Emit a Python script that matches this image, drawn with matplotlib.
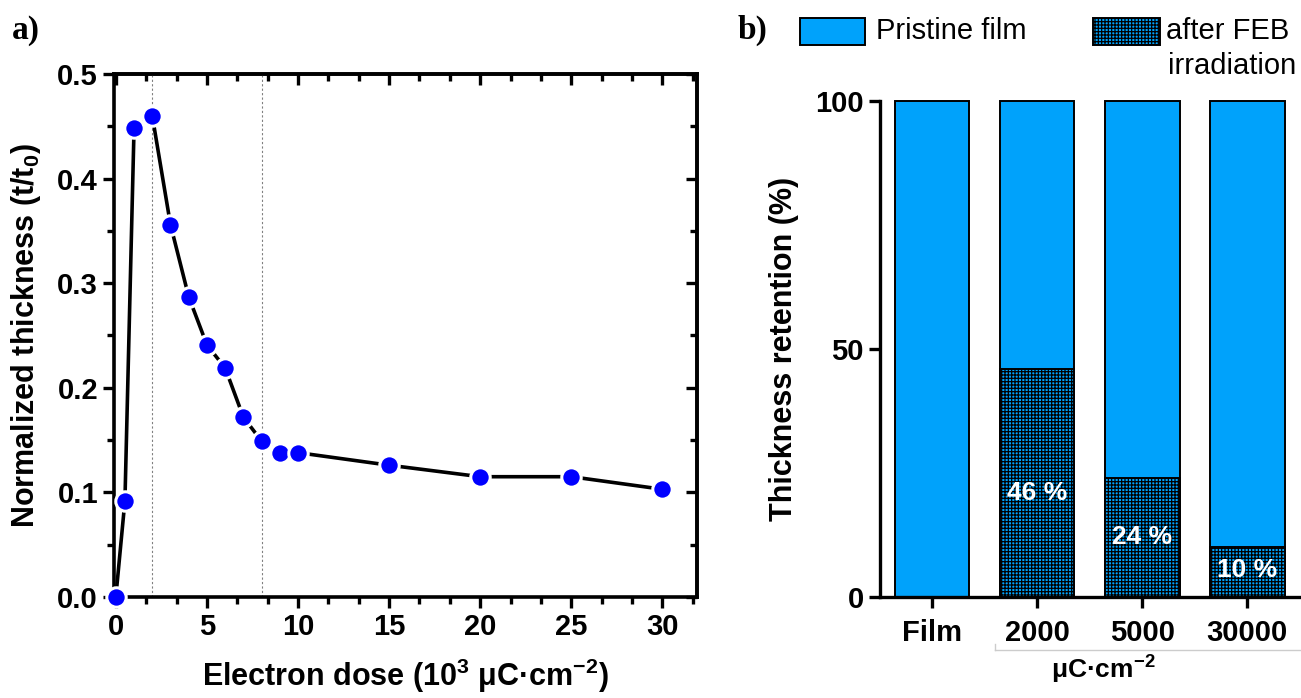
import matplotlib
matplotlib.use('Agg')
import matplotlib.pyplot as plt
from matplotlib.lines import Line2D
import numpy as np

plt.rcParams['font.family'] = ['Liberation Sans', 'DejaVu Sans']
plt.rcParams['mathtext.fontset'] = 'custom'
plt.rcParams['mathtext.rm'] = 'Liberation Sans'
plt.rcParams['mathtext.bf'] = 'Liberation Sans:bold'
plt.rcParams['mathtext.it'] = 'Liberation Sans:italic'
plt.rcParams['hatch.color'] = 'black'
plt.rcParams['hatch.linewidth'] = 0.9

# panel a data
dose = [0, 0.5, 1, 2, 3, 4, 5, 6, 7, 8, 9, 10, 15, 20, 25, 30]
thickness = [0.0, 0.092, 0.448, 0.460, 0.356, 0.287, 0.241, 0.219, 0.172,
             0.149, 0.138, 0.138, 0.126, 0.115, 0.115, 0.103]
guide_doses = [2, 8]

# panel b data
bar_labels = ['Film', '2000', '5000', '30000']
pristine = [100, 100, 100, 100]
retention = [None, 46, 24, 10]

blue = '#00a2fb'
W, H = 1301, 698
fig = plt.figure(figsize=(W / 100, H / 100), dpi=100)

def box(l, t, r, b):
    return [l / W, 1 - b / H, (r - l) / W, (b - t) / H]

FS = 21

# ---------- panel a ----------
ax = fig.add_axes(box(114, 74, 697, 597))
ax.plot(dose, thickness, color='black', lw=2.6, marker='o', ms=14,
        mfc='#0000ff', mec='white', mew=2.2, zorder=3, clip_on=False)
for g in guide_doses:
    ax.axvline(g, color='grey', lw=0.8, ls=(0, (2, 2)), zorder=1)
ax.set_xlim(-0.1, 31.9)
ax.set_ylim(0, 0.5)
xmaj = [0, 5, 10, 15, 20, 25, 30]
xmin = np.arange(0, 32, 5 / 3)
ymaj = [0.0, 0.1, 0.2, 0.3, 0.4, 0.5]
ymin = np.arange(0.05, 0.5, 0.1)
ax.set_xticks(xmaj)
ax.set_xticks(xmin, minor=True)
ax.set_yticks(ymaj)
ax.set_yticks(ymin, minor=True)
ax.set_yticklabels(['0.0', '0.1', '0.2', '0.3', '0.4', '0.5'])
for s in ax.spines.values():
    s.set_linewidth(2.6)
ax.tick_params(which='both', direction='out', width=2.4, labelsize=FS)
ax.tick_params(which='major', length=8)
ax.tick_params(which='minor', length=5)
for t in ax.get_xticklabels() + ax.get_yticklabels():
    t.set_fontweight('bold')

# mirror ticks on top and right, pointing inward
top = ax.secondary_xaxis('top')
top.set_xticks(xmaj)
top.set_xticks(xmin, minor=True)
top.tick_params(which='both', direction='in', width=2.4, labeltop=False)
top.tick_params(which='major', length=8)
top.tick_params(which='minor', length=5)
top.spines['top'].set_linewidth(2.6)
right = ax.secondary_yaxis('right')
right.set_yticks(ymaj)
right.set_yticks(ymin, minor=True)
right.tick_params(which='both', direction='in', width=2.4, labelright=False)
right.tick_params(which='major', length=8)
right.tick_params(which='minor', length=5)
right.spines['right'].set_linewidth(2.6)

ax.set_xlabel(r'Electron dose (10$^\mathbf{3}$ μC·cm$^\mathbf{-2}$)',
              fontsize=22, fontweight='bold', labelpad=11)
ax.set_ylabel(r'Normalized thickness (t/t$_\mathbf{0}$)',
              fontsize=22, fontweight='bold', labelpad=10)
fig.text(12 / W, 1 - 30 / H, 'a)', fontsize=24, fontweight='bold',
         family='Liberation Serif', va='center')

# ---------- panel b ----------
bx = fig.add_axes(box(880, 101, 1301, 597))
pos = np.arange(len(bar_labels))
bx.bar(pos, pristine, width=0.71, color=blue, edgecolor='black', lw=1.4,
       zorder=2, clip_on=False)
for p, v in zip(pos, retention):
    if v is None:
        continue
    bx.bar(p, v, width=0.71, color=blue, edgecolor='black', lw=1.4,
           hatch='+++++', zorder=3)
label_y = [None, 21, 12, 5.5]
for p, v, ly in zip(pos, retention, label_y):
    if v is None:
        continue
    bx.text(p, ly, f'{v} %', color='white', fontsize=19, fontweight='bold',
            ha='center', va='center', zorder=4)
bx.set_xlim(-0.495, 3.51)
bx.set_ylim(0, 100)
bx.set_xticks(pos)
bx.set_xticklabels(bar_labels)
bx.set_yticks([0, 50, 100])
for side in ['top', 'right']:
    bx.spines[side].set_visible(False)
for side in ['left', 'bottom']:
    bx.spines[side].set_linewidth(2.4)
bx.tick_params(which='both', direction='out', width=2.4, length=8,
               labelsize=FS)
bx.tick_params(axis='x', pad=8)
for t in bx.get_xticklabels() + bx.get_yticklabels():
    t.set_fontweight('bold')
bx.set_ylabel('Thickness retention (%)', fontsize=22, fontweight='bold',
              labelpad=12)
fig.text(738 / W, 1 - 30 / H, 'b)', fontsize=24, fontweight='bold',
         family='Liberation Serif', va='center')

# unit bracket under irradiated bars
fig.add_artist(Line2D([995 / W, 1301 / W], [1 - 650 / H, 1 - 650 / H],
                      color='#cccccc', lw=1))
fig.add_artist(Line2D([995 / W, 995 / W], [1 - 650 / H, 1 - 644 / H],
                      color='#cccccc', lw=1))
fig.text(1103 / W, 1 - 670 / H, r'μC·cm$^\mathbf{-2}$', fontsize=19,
         fontweight='bold', ha='center', va='center')

# legend
lax = fig.add_axes([0, 0, 1, 1], facecolor='none')
lax.set_xlim(0, W)
lax.set_ylim(H, 0)
lax.axis('off')
lax.add_patch(plt.Rectangle((800, 18), 65, 27, facecolor=blue,
                            edgecolor='black', lw=1.4))
lax.text(876, 31, 'Pristine film', fontsize=21, va='center')
lax.add_patch(plt.Rectangle((1093, 18), 67, 27, facecolor=blue,
                            edgecolor='black', lw=1.4, hatch='+++++'))
lax.text(1166, 31, 'after FEB', fontsize=21, va='center')
lax.text(1168, 66, 'irradiation', fontsize=21, va='center')

fig.savefig('out.png', dpi=100)
